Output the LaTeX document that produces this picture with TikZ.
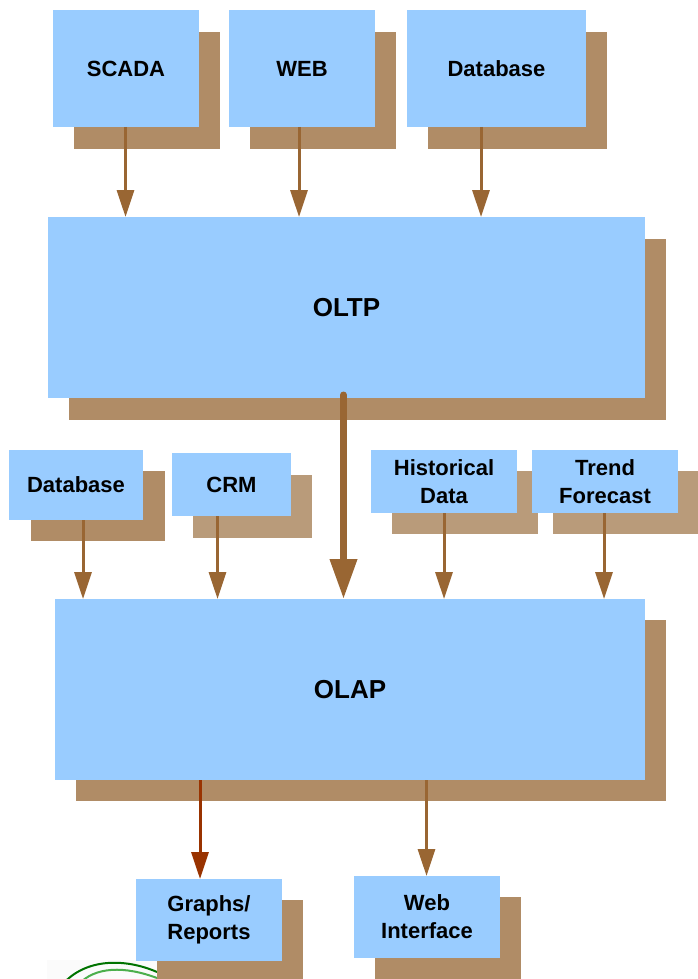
\documentclass[tikz,border=0pt]{standalone}
\usepackage{fontspec}
\setmainfont{Liberation Sans}
\usetikzlibrary{arrows.meta}
\definecolor{boxblue}{HTML}{99CCFF}
\definecolor{shadowdark}{HTML}{B08C66}
\definecolor{shadowlight}{HTML}{B99B7A}
\definecolor{arrowbrown}{HTML}{996633}
\definecolor{arrowred}{HTML}{993300}
\tikzset{
  x=1pt,y=-1pt,
  bx/.style={fill=boxblue,draw=none,inner sep=0pt,outer sep=0pt,align=center,font=\bfseries\fontsize{22}{28}\selectfont},
  shd/.style={fill=shadowdark,draw=none},
  shl/.style={fill=shadowlight,draw=none},
  thin arrow/.style={draw=arrowbrown,line width=3pt,-{Triangle[length=27pt,width=17pt,fill=arrowbrown]}},
  red arrow/.style={draw=arrowred,line width=3pt,-{Triangle[length=27pt,width=17pt,fill=arrowred]}},
  thick arrow/.style={draw=arrowbrown,line width=7pt,line cap=round,-{Triangle[length=40pt,width=26pt,fill=arrowbrown]}},
}
\newcommand{\bxnode}[7][22]{%
  % size, name, x1, y1, x2, y2, text
  \node[bx,anchor=north west,minimum width=#5-#3,minimum height=#6-#4,font=\bfseries\fontsize{#1}{28}\selectfont] (#2) at (#3,#4) {#7};}
\begin{document}
\begin{tikzpicture}
\useasboundingbox (0,0) rectangle (697,979);
% logo fragment
\begin{scope}
\clip (47,960) rectangle (157,979);
\fill[white!97!gray] (47,960) rectangle (157,979);
\draw[green!45!black,line width=2pt] (62,985) .. controls (85,958) and (125,958) .. (157,972);
\draw[green!55!black!70,line width=2pt] (78,985) .. controls (95,966) and (125,966) .. (157,978);
\end{scope}
% shadows
\fill[shd] (74,32) rectangle (220,149);
\fill[shd] (250,32) rectangle (396,149);
\fill[shd] (428,32) rectangle (607,149);
\fill[shd] (69,239) rectangle (666,420);
\fill[shd] (31,471) rectangle (165,541);
\fill[shl] (193,475) rectangle (312,538);
\fill[shl] (392,471) rectangle (538,534);
\fill[shl] (553,471) rectangle (699,534);
\fill[shd] (76,620) rectangle (666,801);
\fill[shd] (157,900) rectangle (303,979);
\fill[shd] (375,897) rectangle (521,979);
% boxes
\bxnode{scada}{53}{10}{199}{127}{SCADA}
\bxnode{web}{229}{10}{375}{127}{WEB}
\bxnode{dbtop}{407}{10}{586}{127}{Database}
\bxnode[26]{oltp}{48}{217}{645}{398}{OLTP}
\bxnode{dbmid}{9}{450}{143}{520}{Database}
\bxnode{crm}{172}{453}{291}{516}{CRM}
\bxnode{hist}{371}{450}{517}{513}{Historical\\Data}
\bxnode{trend}{532}{450}{678}{513}{Trend\\Forecast}
\bxnode[26]{olap}{55}{599}{645}{780}{OLAP}
\bxnode{graphs}{136}{879}{282}{961}{Graphs/\\Reports}
\bxnode{webif}{354}{876}{500}{958}{Web\\Interface}
% connectors
\draw[thin arrow] ([xshift=-.5pt]scada.south) -- ([xshift=-.5pt]scada.south |- oltp.north);
\draw[thin arrow] ([xshift=-3pt]web.south) -- ([xshift=-3pt]web.south |- oltp.north);
\draw[thin arrow] ([xshift=-15.5pt]dbtop.south) -- ([xshift=-15.5pt]dbtop.south |- oltp.north);
\draw[thick arrow] ([xshift=-3pt,yshift=3pt]oltp.south) -- ([xshift=-3pt]oltp.south |- olap.north);
\draw[thin arrow] ([xshift=7pt]dbmid.south) -- ([xshift=7pt]dbmid.south |- olap.north);
\draw[thin arrow] ([xshift=-14pt]crm.south) -- ([xshift=-14pt]crm.south |- olap.north);
\draw[thin arrow] (hist.south) -- (hist.south |- olap.north);
\draw[thin arrow] ([xshift=-1pt]trend.south) -- ([xshift=-1pt]trend.south |- olap.north);
\draw[red arrow] ([xshift=-150pt]olap.south) -- ([xshift=-150pt]olap.south |- graphs.north);
\draw[thin arrow] ([xshift=76.5pt]olap.south) -- ([xshift=76.5pt]olap.south |- webif.north);
\end{tikzpicture}
\end{document}
